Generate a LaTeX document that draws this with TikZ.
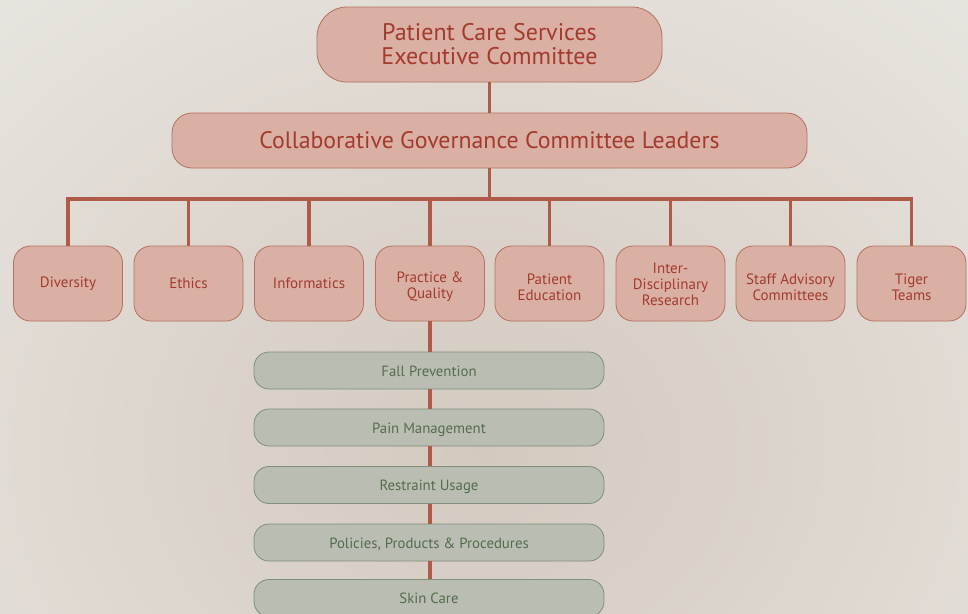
\documentclass[tikz,border=0pt]{standalone}
\usepackage{fontspec}
\setmainfont{PT Sans}
\definecolor{bgA}{HTML}{E9E6E1}
\definecolor{bgB}{HTML}{D3C9BF}
\definecolor{pinkfill}{HTML}{D9B0A3}
\definecolor{pinkline}{HTML}{B7705F}
\definecolor{pinktext}{HTML}{A43A2E}
\definecolor{conn}{HTML}{B05A48}
\definecolor{greenfill}{HTML}{B9BDB2}
\definecolor{greenline}{HTML}{7F8F78}
\definecolor{greentext}{HTML}{566C4E}
\tikzset{
  topbox/.style={draw=pinkline, fill=pinkfill, line width=0.8pt, text=pinktext, align=center, inner sep=0pt},
  catbox/.style={draw=pinkline, fill=pinkfill, line width=0.8pt, text=pinktext, align=center, inner sep=0pt,
    minimum width=109pt, minimum height=75pt, rounded corners=17pt,
    font=\fontsize{15}{16}\selectfont},
  cattext/.style={text=pinktext, align=center, inner sep=0pt, font=\fontsize{15}{16}\selectfont, yshift=-3.5pt},
  subbox/.style={draw=greenline, fill=greenfill, line width=0.8pt, text=greentext, align=center, inner sep=0pt,
    minimum width=350pt, minimum height=37pt, rounded corners=15pt,
    text height=12.5pt, text depth=1pt,
    font=\fontsize{14.8}{16}\selectfont},
  link/.style={draw=conn, line width=3.5pt}
}
\begin{document}
\begin{tikzpicture}[x=1pt,y=-1pt]
\useasboundingbox (0,0) rectangle (968,613);
\begin{scope}
\clip (0,0) rectangle (968,613);
\shade[inner color=bgB, outer color=bgA] (-300,-200) rectangle (1268,1100);
\end{scope}

% top levels
\node[topbox, minimum width=345pt, minimum height=75pt, rounded corners=30pt,
  font=\fontsize{24}{24}\selectfont] (exec) at (489.5,44.5)
  {Patient Care Services\\Executive Committee};
\node[topbox, minimum width=635pt, minimum height=55pt, rounded corners=20pt,
  font=\fontsize{23.8}{24}\selectfont] (collab) at (489.5,140.5)
  {Collaborative Governance Committee Leaders};

% categories
\node[catbox] (div) at (68,283.5) {Diversity};
\node[catbox] (eth) at (188.5,283.5) {Ethics};
\node[catbox] (inf) at (309,283.5) {Informatics};
\node[catbox, label={[cattext]center:{Practice \&\\Quality}}] (pq) at (430,283.5) {};
\node[catbox, label={[cattext]center:{Patient\\Education}}] (pe) at (549.5,283.5) {};
\node[catbox, label={[cattext, yshift=2.5pt]center:{Inter-\\Disciplinary\\Research}}] (idr) at (670.5,283.5) {};
\node[catbox, label={[cattext]center:{Staff Advisory\\Committees}}] (sac) at (790.5,283.5) {};
\node[catbox, label={[cattext]center:{Tiger\\Teams}}] (tt) at (911.5,283.5) {};

% sub committees
\node[subbox] (fall) at (429,370.5) {Fall Prevention};
\node[subbox] (pain) at (429,427.5) {Pain Management};
\node[subbox] (rest) at (429,485) {Restraint Usage};
\node[subbox] (pol)  at (429,542.5) {Policies, Products \& Procedures};
\node[subbox] (skin) at (429,598) {Skin Care};

% connectors
\coordinate (bar) at (489.5,199);
\path[link] (exec.south) -- (collab.north);
\path[link] (collab.south) -- (bar);
\path[link, line cap=rect] (div.north |- bar) -- (tt.north |- bar);
\foreach \n in {div,eth,inf,pq,pe,idr,sac,tt}{
  \path[link] (\n.north |- bar) -- (\n.north);
}
\path[link] (pq.south) -- (pq.south |- fall.north);
\path[link] (pq.south |- fall.south) -- (pq.south |- pain.north);
\path[link] (pq.south |- pain.south) -- (pq.south |- rest.north);
\path[link] (pq.south |- rest.south) -- (pq.south |- pol.north);
\path[link] (pq.south |- pol.south) -- (pq.south |- skin.north);
\end{tikzpicture}
\end{document}
